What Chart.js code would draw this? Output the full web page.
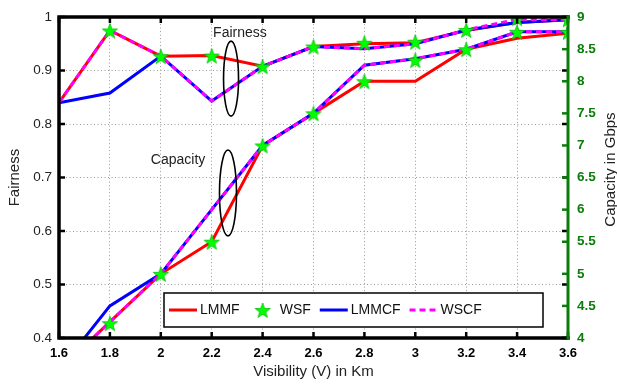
<!DOCTYPE html>
<html>
<head>
<meta charset="utf-8">
<script src="https://cdn.jsdelivr.net/npm/chart.js@4.4.0/dist/chart.umd.min.js"></script>
<style>
  html, body { margin: 0; padding: 0; background: #fff; }
  #wrap { position: relative; width: 617px; height: 386px; }
</style>
</head>
<body>
<div id="wrap"><canvas id="chart" width="617" height="386"></canvas></div>
<script>
// visibility (km)
var visibility = [1.6, 1.8, 2.0, 2.2, 2.4, 2.6, 2.8, 3.0, 3.2, 3.4, 3.6];

// fairness, left axis
var fairLMMF  = [0.84, 0.975, 0.927, 0.928, 0.908, 0.945, 0.950, 0.952, 0.975, 0.990, 0.995];
var fairWSF   = [null, 0.975, 0.927, 0.928, 0.908, 0.945, 0.952, 0.954, 0.976, 0.998, 0.996];
var fairLMMCF = [0.84, 0.858, 0.927, 0.843, 0.908, 0.945, 0.941, 0.950, 0.976, 0.990, 0.995];
var fairWSCF  = [0.84, 0.975, 0.927, 0.843, 0.908, 0.945, 0.941, 0.950, 0.976, 0.996, 0.995];

// capacity in Gbps, right axis
var capLMMF  = [3.5, 4.25, 5.0, 5.5, 7.0, 7.5, 8.0, 8.0, 8.5, 8.67, 8.75];
var capWSF   = [null, 4.23, 5.0, 5.5, 7.0, 7.5, 8.0, 8.33, 8.5, 8.77, 8.77];
var capLMMCF = [3.5, 4.5, 5.0, 6.0, 7.0, 7.5, 8.25, 8.35, 8.5, 8.77, 8.77];
var capWSCF  = [3.5, 4.25, 5.0, 6.0, 7.0, 7.5, 8.25, 8.35, 8.5, 8.77, 8.77];

var seriesNames = ['LMMF', 'WSF', 'LMMCF', 'WSCF'];

var FONT = "'Liberation Sans', Arial, sans-serif";
var GREEN = '#0a7d0a';

function pointsOf(ys) {
    return visibility.map(function(v, i) { return { x: v, y: ys[i] }; });
}

// filled pentagram marker like matlab's 'p'
function makeStar(r) {
    var s = Math.ceil(r * 2 + 2);
    var c = document.createElement('canvas');
    c.width = s; c.height = s;
    var g = c.getContext('2d');
    g.beginPath();
    for (var i = 0; i < 10; i++) {
        var rad = i % 2 === 0 ? r : r * 0.4;
        var a = -Math.PI / 2 + i * Math.PI / 5;
        var px = s / 2 + rad * Math.cos(a), py = s / 2 + 1 + rad * Math.sin(a);
        if (i === 0) g.moveTo(px, py); else g.lineTo(px, py);
    }
    g.closePath();
    g.fillStyle = '#00ff00';
    g.fill();
    g.strokeStyle = '#00c000';
    g.lineWidth = 0.8;
    g.stroke();
    return c;
}
var star = makeStar(8);

function lineSet(label, data, axis, color, dash, order) {
    return {
        label: label, data: pointsOf(data), yAxisID: axis,
        borderColor: color, backgroundColor: color, borderWidth: 3,
        borderDash: dash, pointRadius: 0, tension: 0, order: order, fill: false
    };
}
function starSet(label, data, axis) {
    return {
        label: label, data: pointsOf(data), yAxisID: axis, showLine: false,
        pointStyle: star, pointRadius: 8, order: 0
    };
}

// ellipses, annotations, axes frame and the boxed legend
var decorations = {
    id: 'decorations',
    afterDatasetsDraw: function(chart) {
        var ctx = chart.ctx, x = chart.scales.x, y = chart.scales.y;
        ctx.save();
        ctx.strokeStyle = '#000';
        ctx.lineWidth = 1.6;
        ctx.beginPath();
        ctx.ellipse(x.getPixelForValue(2.276), y.getPixelForValue(0.885), 7.5, 37.5, 0, 0, 2 * Math.PI);
        ctx.stroke();
        ctx.beginPath();
        ctx.ellipse(x.getPixelForValue(2.264), y.getPixelForValue(0.671), 8.5, 43, 0, 0, 2 * Math.PI);
        ctx.stroke();
        ctx.fillStyle = '#222';
        ctx.font = '14px ' + FONT;
        ctx.textAlign = 'center';
        ctx.textBaseline = 'middle';
        ctx.fillText('Fairness', x.getPixelForValue(2.311), y.getPixelForValue(0.9706));
        ctx.fillText('Capacity', x.getPixelForValue(2.068), y.getPixelForValue(0.733));
        ctx.restore();
    },
    afterDraw: function(chart) {
        var ctx = chart.ctx, a = chart.chartArea;
        var x = chart.scales.x, y = chart.scales.y, y1 = chart.scales.y1;
        ctx.save();
        // tick marks pointing inward
        ctx.lineWidth = 2.5;
        ctx.strokeStyle = '#000';
        x.ticks.forEach(function(t) {
            var px = x.getPixelForValue(t.value);
            ctx.beginPath();
            ctx.moveTo(px, a.bottom); ctx.lineTo(px, a.bottom - 6);
            ctx.moveTo(px, a.top); ctx.lineTo(px, a.top + 6);
            ctx.stroke();
        });
        y.ticks.forEach(function(t) {
            var py = y.getPixelForValue(t.value);
            ctx.beginPath();
            ctx.moveTo(a.left, py); ctx.lineTo(a.left + 6, py);
            ctx.moveTo(a.right, py); ctx.lineTo(a.right - 6, py);
            ctx.stroke();
        });
        ctx.strokeStyle = GREEN;
        y1.ticks.forEach(function(t) {
            var py = y1.getPixelForValue(t.value);
            ctx.beginPath();
            ctx.moveTo(a.right, py); ctx.lineTo(a.right - 6, py);
            ctx.stroke();
        });
        // frame
        ctx.lineCap = 'square';
        ctx.strokeStyle = '#000';
        ctx.lineWidth = 3.5;
        ctx.beginPath();
        ctx.moveTo(a.right, a.top); ctx.lineTo(a.left, a.top);
        ctx.lineTo(a.left, a.bottom); ctx.lineTo(a.right, a.bottom);
        ctx.stroke();
        ctx.strokeStyle = GREEN;
        ctx.lineWidth = 3;
        ctx.beginPath();
        ctx.moveTo(a.right, a.top); ctx.lineTo(a.right, a.bottom);
        ctx.stroke();

        // right axis title, reading upwards
        ctx.fillStyle = '#222';
        ctx.font = '15px ' + FONT;
        ctx.textAlign = 'center';
        ctx.textBaseline = 'middle';
        ctx.translate(611, (a.top + a.bottom) / 2 - 8);
        ctx.rotate(-Math.PI / 2);
        ctx.fillText('Capacity in Gbps', 0, 0);
        ctx.restore();

        // legend box inside the plot
        ctx.save();
        var bx = 164, by = 293, bw = 379, bh = 34, cy = by + bh / 2;
        ctx.fillStyle = '#fff';
        ctx.fillRect(bx, by, bw, bh);
        ctx.strokeStyle = '#000';
        ctx.lineWidth = 1.5;
        ctx.strokeRect(bx, by, bw, bh);
        ctx.font = '14px ' + FONT;
        ctx.textBaseline = 'middle';
        ctx.textAlign = 'left';
        var cx = bx + 5;
        var samples = [
            { color: '#ff0000', dash: [] },
            { star: true },
            { color: '#0000ff', dash: [] },
            { color: '#ff00ff', dash: [6, 4] }
        ];
        seriesNames.forEach(function(name, i) {
            var s = samples[i];
            if (s.star) {
                ctx.drawImage(star, cx + 14 - star.width / 2, cy - star.height / 2);
            } else {
                ctx.strokeStyle = s.color;
                ctx.lineWidth = 3;
                ctx.setLineDash(s.dash);
                ctx.beginPath();
                ctx.moveTo(cx, cy); ctx.lineTo(cx + 28, cy);
                ctx.stroke();
                ctx.setLineDash([]);
            }
            ctx.fillStyle = '#111';
            ctx.fillText(name, cx + 31, cy);
            cx += 31 + ctx.measureText(name).width + 9;
        });
        ctx.restore();
    }
};

function fmt(v) { return String(Math.round(v * 100) / 100); }

var gridOpts = { color: '#9a9a9a', lineWidth: 1, drawTicks: false };
var dotted = { display: false, dash: [1, 2.5] };

var chart = new Chart(document.getElementById('chart').getContext('2d'), {
    type: 'line',
    data: {
        datasets: [
            starSet('WSF', fairWSF, 'y'),
            starSet('WSF cap', capWSF, 'y1'),
            lineSet('WSCF', fairWSCF, 'y', '#ff00ff', [6, 4], 1),
            lineSet('WSCF cap', capWSCF, 'y1', '#ff00ff', [6, 4], 1),
            lineSet('LMMCF', fairLMMCF, 'y', '#0000ff', [], 2),
            lineSet('LMMCF cap', capLMMCF, 'y1', '#0000ff', [], 2),
            lineSet('LMMF', fairLMMF, 'y', '#ff0000', [], 3),
            lineSet('LMMF cap', capLMMF, 'y1', '#ff0000', [], 3)
        ]
    },
    options: {
        responsive: false,
        animation: false,
        layout: { padding: { top: 12, left: 0, right: 0, bottom: 0 } },
        plugins: { legend: { display: false }, tooltip: { enabled: false } },
        scales: {
            x: {
                type: 'linear', min: 1.6, max: 3.6,
                ticks: { stepSize: 0.2, padding: 8, color: '#000', callback: fmt,
                         font: { family: FONT, size: 13, weight: 'bold' } },
                grid: gridOpts, border: dotted,
                title: { display: true, text: 'Visibility (V) in Km', color: '#222',
                         font: { family: FONT, size: 15 }, padding: { top: 0, bottom: 5 } },
                afterFit: function(s) { s.height = 48; }
            },
            y: {
                position: 'left', min: 0.4, max: 1,
                ticks: { stepSize: 0.1, padding: 7, color: '#222', callback: fmt,
                         font: { family: FONT, size: 13.5 } },
                grid: gridOpts, border: dotted,
                title: { display: true, text: 'Fairness', color: '#222',
                         font: { family: FONT, size: 15 }, padding: { top: 6, bottom: 0 } },
                afterFit: function(s) { s.width = 59; }
            },
            y1: {
                position: 'right', min: 4, max: 9,
                ticks: { stepSize: 0.5, padding: 9, color: GREEN, callback: fmt,
                         font: { family: FONT, size: 13.5, weight: 'bold' } },
                grid: { display: false, drawTicks: false }, border: { display: false },
                afterFit: function(s) { s.width = 49; }
            }
        }
    },
    plugins: [decorations]
});
</script>
</body>
</html>
